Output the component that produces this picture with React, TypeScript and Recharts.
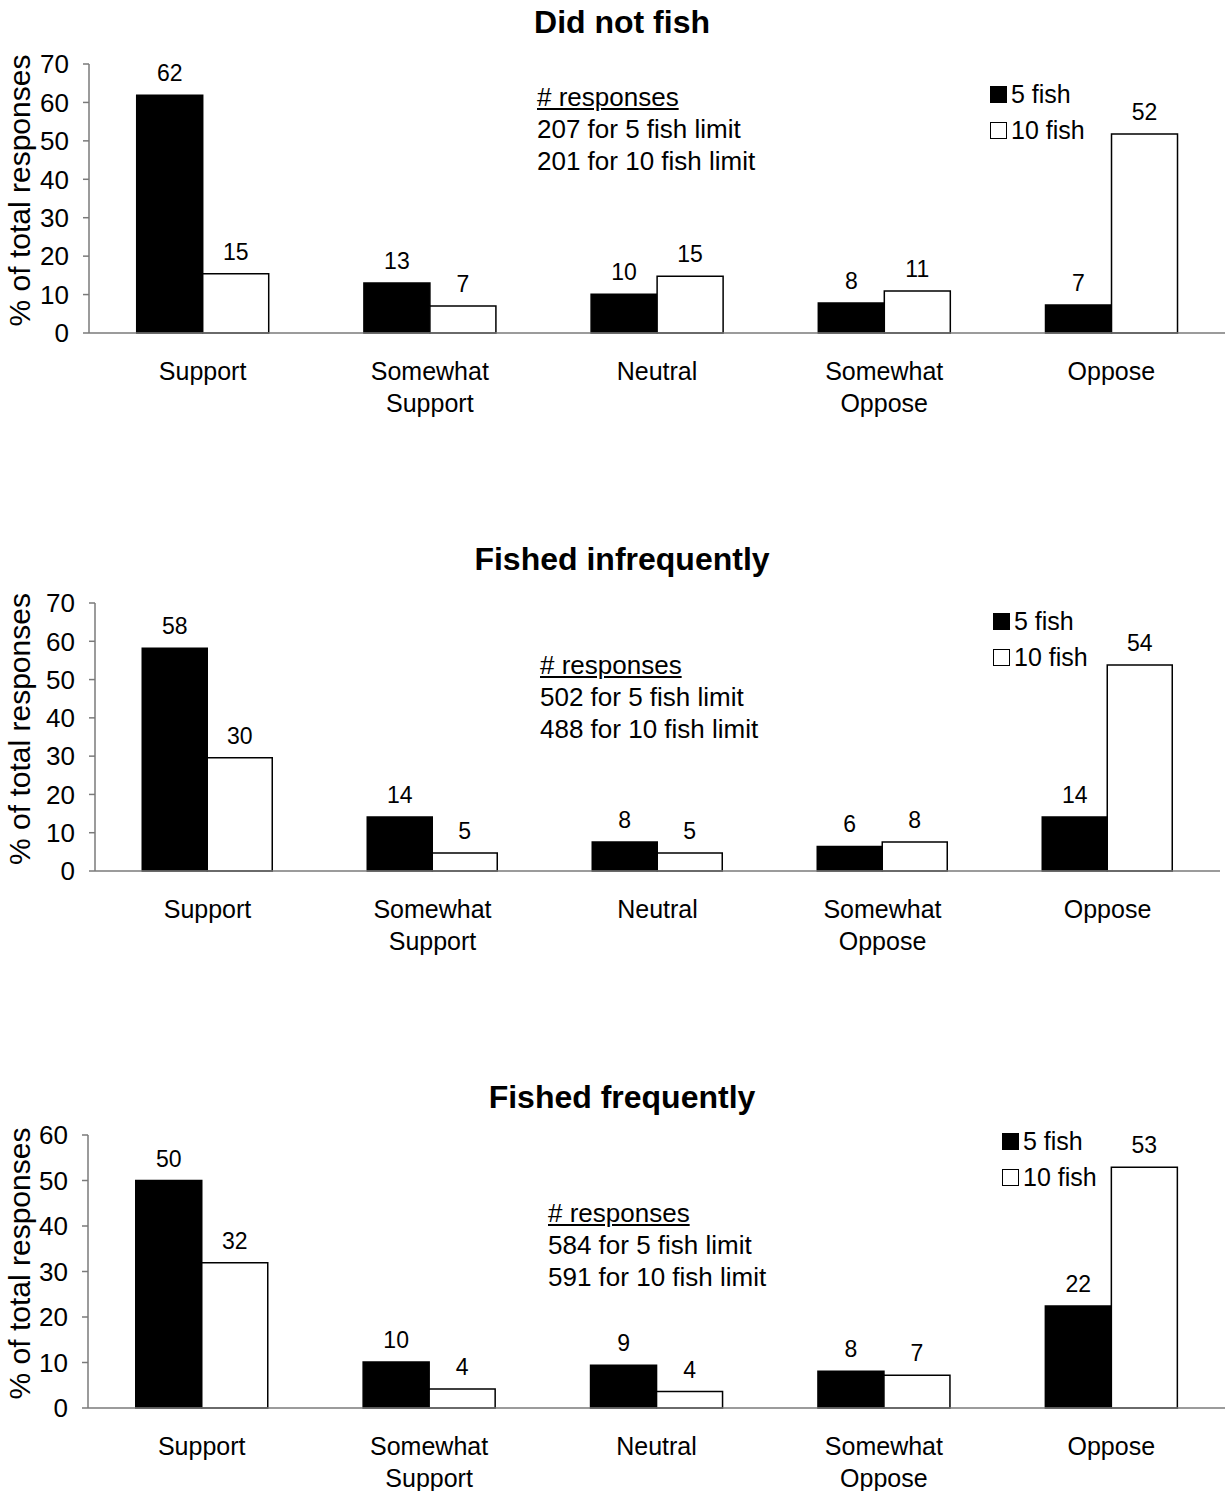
import React from 'react';
import { BarChart, Bar, XAxis, YAxis, LabelList, Legend } from 'recharts';

const FONT = '"Liberation Sans", Arial, Helvetica, sans-serif';

// categories on the x axis (\n = line break)
const categories = ['Support', 'Somewhat\nSupport', 'Neutral', 'Somewhat\nOppose', 'Oppose'];

// % of total responses
const didNotFish5 = [61.9, 13.0, 10.1, 7.8, 7.3];
const didNotFish10 = [15.4, 7.0, 14.8, 10.9, 51.8];
const infrequent5 = [58.2, 14.1, 7.6, 6.4, 14.1];
const infrequent10 = [29.6, 4.7, 4.7, 7.6, 53.8];
const frequent5 = [50.0, 10.1, 9.4, 8.1, 22.4];
const frequent10 = [31.9, 4.2, 3.6, 7.2, 52.9];

const ticks70 = [0, 10, 20, 30, 40, 50, 60, 70];
const ticks60 = [0, 10, 20, 30, 40, 50, 60];

const responsesDidNot = ['207 for 5 fish limit', '201 for 10 fish limit'];
const responsesInfrequent = ['502 for 5 fish limit', '488 for 10 fish limit'];
const responsesFrequent = ['584 for 5 fish limit', '591 for 10 fish limit'];

const boundaryTicks = [0, 1, 2, 3, 4, 5];
const legendOrder = ['five', 'ten'];

const AXIS = '#7a7a7a';

function buildRows(five: number[], ten: number[]) {
  return categories.map((c, i) => ({ name: c, five: five[i], ten: ten[i] }));
}

const CategoryTick = (props: any) => {
  const { x, y, payload } = props;
  const lines = String(payload.value).split('\n');
  return (
    <g>
      <text x={x} y={y} textAnchor="middle" fontSize={25} fill="#000" fontFamily={FONT}>
        {lines.map((l, i) => (
          <tspan key={i} x={x} dy={i === 0 ? 39 : 32}>
            {l}
          </tspan>
        ))}
      </text>
    </g>
  );
};

const renderYLabel = (p: any) => {
  const vb = p.viewBox || {};
  const cy = vb.y + vb.height / 2 - 8;
  return (
    <text
      transform={`translate(19, ${cy}) rotate(-90)`}
      textAnchor="middle"
      dominantBaseline="central"
      fontSize={30}
      fill="#000"
      fontFamily={FONT}
    >
      % of total responses
    </text>
  );
};

const LegendBox = (props: any) => {
  const items = [...(props.payload || [])].sort(
    (a: any, b: any) => legendOrder.indexOf(a.dataKey) - legendOrder.indexOf(b.dataKey)
  );
  return (
    <div style={{ fontFamily: FONT, fontSize: 25, lineHeight: '36px', color: '#000' }}>
      {items.map((it: any, i: number) => (
        <div key={i} style={{ display: 'flex', alignItems: 'center', whiteSpace: 'nowrap' }}>
          <span
            style={{
              display: 'inline-block',
              width: 17,
              height: 17,
              boxSizing: 'border-box',
              background: it.color,
              border: '1.5px solid #000',
              marginRight: 4,
            }}
          />
          {it.value}
        </div>
      ))}
    </div>
  );
};

type PanelProps = {
  top: number;
  title: string;
  titleY: number;
  rows: { name: string; five: number; ten: number }[];
  yMax: number;
  yTicks: number[];
  plotTop: number;
  plotBottom: number;
  axisX: number;
  rightGap: number;
  legendLeft: number;
  legendTop: number;
  noteLeft: number;
  noteTop: number;
  noteLines: string[];
};

function Panel(p: PanelProps) {
  const height = p.plotBottom - p.top + 107;
  return (
    <>
      <div
        style={{
          position: 'absolute',
          left: 222,
          width: 800,
          top: p.titleY - 20,
          lineHeight: '40px',
          textAlign: 'center',
          fontFamily: FONT,
          fontWeight: 'bold',
          fontSize: 32,
          color: '#000',
        }}
      >
        {p.title}
      </div>
      <div style={{ position: 'absolute', left: 0, top: p.top }}>
        <BarChart
          width={1225}
          height={height}
          data={p.rows}
          margin={{ top: p.plotTop - p.top, right: p.rightGap, bottom: 7, left: 0 }}
          barCategoryGap="21%"
          barGap={0}
        >
          {/* category boundary ticks, drawn right under the plot */}
          <XAxis
            xAxisId="a"
            type="number"
            domain={[0, 5]}
            ticks={boundaryTicks}
            allowDataOverflow
            height={8}
            tick={false}
            tickSize={6}
            axisLine={{ stroke: AXIS, strokeWidth: 1.5 }}
            tickLine={{ stroke: AXIS, strokeWidth: 1.5 }}
          />
          <XAxis
            xAxisId="b"
            dataKey="name"
            type="category"
            height={92}
            interval={0}
            axisLine={false}
            tickLine={false}
            tickSize={0}
            tickMargin={0}
            tick={<CategoryTick />}
          />
          <YAxis
            width={p.axisX}
            domain={[0, p.yMax]}
            ticks={p.yTicks}
            interval={0}
            tickSize={6}
            tickMargin={14}
            axisLine={{ stroke: AXIS, strokeWidth: 1.5 }}
            tickLine={{ stroke: AXIS, strokeWidth: 1.5 }}
            tick={{ fill: '#000', fontSize: 26, fontFamily: FONT }}
            label={{ content: renderYLabel }}
          />
          <Legend
            layout="vertical"
            align="center"
            verticalAlign="middle"
            content={<LegendBox />}
            wrapperStyle={{ left: p.legendLeft, top: p.legendTop, right: 'auto', bottom: 'auto', width: 160 }}
          />
          <Bar
            xAxisId="b"
            dataKey="five"
            name="5 fish"
            fill="#000"
            stroke="#000"
            strokeWidth={1.5}
            isAnimationActive={false}
          >
            <LabelList
              dataKey="five"
              position="top"
              offset={14}
              formatter={(v: any) => Math.round(Number(v))}
              style={{ fill: '#000', fontSize: 23, fontFamily: FONT }}
            />
          </Bar>
          <Bar
            xAxisId="b"
            dataKey="ten"
            name="10 fish"
            fill="#fff"
            stroke="#000"
            strokeWidth={1.5}
            isAnimationActive={false}
          >
            <LabelList
              dataKey="ten"
              position="top"
              offset={14}
              formatter={(v: any) => Math.round(Number(v))}
              style={{ fill: '#000', fontSize: 23, fontFamily: FONT }}
            />
          </Bar>
        </BarChart>
      </div>
      <div
        style={{
          position: 'absolute',
          left: p.noteLeft,
          top: p.noteTop,
          fontFamily: FONT,
          fontSize: 26,
          lineHeight: '32px',
          color: '#000',
          whiteSpace: 'nowrap',
        }}
      >
        <div style={{ textDecoration: 'underline' }}># responses</div>
        {p.noteLines.map((l, i) => (
          <div key={i}>{l}</div>
        ))}
      </div>
    </>
  );
}

export default function App() {
  return (
    <div
      style={{
        position: 'absolute',
        left: 0,
        top: 0,
        width: 1225,
        height: 1491,
        overflow: 'hidden',
        background: '#fff',
      }}
    >
      <Panel
        top={0}
        title="Did not fish"
        titleY={22}
        rows={buildRows(didNotFish5, didNotFish10)}
        yMax={70}
        yTicks={ticks70}
        plotTop={64}
        plotBottom={333}
        axisX={89}
        rightGap={0}
        legendLeft={990}
        legendTop={76}
        noteLeft={537}
        noteTop={81}
        noteLines={responsesDidNot}
      />
      <Panel
        top={540}
        title="Fished infrequently"
        titleY={559}
        rows={buildRows(infrequent5, infrequent10)}
        yMax={70}
        yTicks={ticks70}
        plotTop={603}
        plotBottom={871}
        axisX={95}
        rightGap={5}
        legendLeft={993}
        legendTop={63}
        noteLeft={540}
        noteTop={649}
        noteLines={responsesInfrequent}
      />
      <Panel
        top={1080}
        title="Fished frequently"
        titleY={1097}
        rows={buildRows(frequent5, frequent10)}
        yMax={60}
        yTicks={ticks60}
        plotTop={1135}
        plotBottom={1408}
        axisX={88}
        rightGap={0}
        legendLeft={1002}
        legendTop={43}
        noteLeft={548}
        noteTop={1197}
        noteLines={responsesFrequent}
      />
    </div>
  );
}
